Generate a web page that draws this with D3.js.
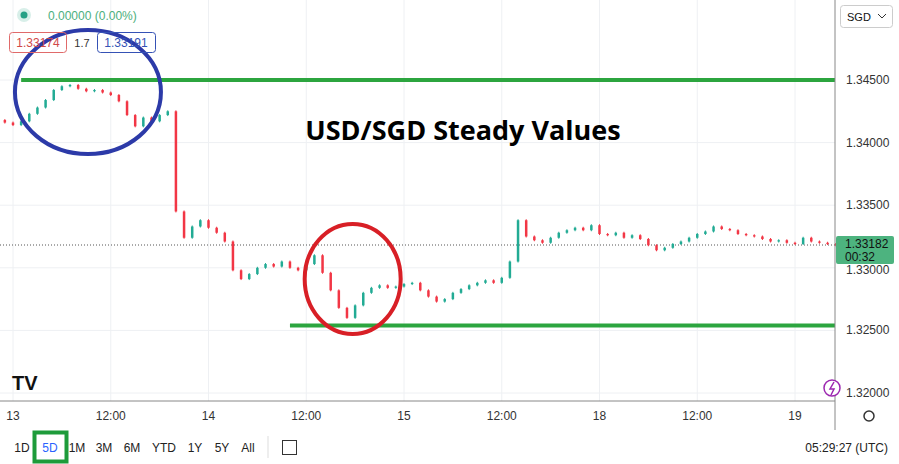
<!DOCTYPE html>
<html><head><meta charset="utf-8">
<script src="https://cdn.jsdelivr.net/npm/d3@7"></script>
<style>body{margin:0;background:#fff;font-family:"Liberation Sans",Arial,sans-serif}</style>
</head><body><div id="chart"></div>
<script>
// hours since 13th 00:00 (weekend removed), hourly closes
const hours = d3.range(-2, 102);
const closes = [1.3418,1.3416,1.3414,1.3417,1.3423,1.3428,1.3434,1.3442,1.3445,1.3446,1.3443,1.3441,1.3442,1.3440,1.3438,1.3433,1.3422,1.3413,1.3420,1.3417,1.3422,1.3425,
  1.3345,1.3324,1.3333,1.3338,1.3332,1.3328,1.3321,1.3298,1.3291,1.3295,1.3300,1.3303,1.3301,1.3305,1.3300,1.3298,1.3303,1.3310,1.3296,1.3282,1.3268,1.3260,1.3270,1.3280,
  1.3284,1.3286,1.3284,1.3285,1.3287,1.3288,1.3282,1.3277,1.3273,1.3275,1.3280,1.3283,1.3286,1.3288,1.3290,1.3288,1.3292,1.3305,1.3338,1.3325,1.3322,1.3320,1.3324,1.3328,
  1.3330,1.3332,1.3330,1.3334,1.3327,1.3326,1.3328,1.3324,1.3326,1.3323,1.3318,1.3314,1.3316,1.3319,1.3321,1.3324,1.3327,1.3329,1.3333,1.3331,1.3330,1.3327,1.3326,1.3325,
  1.3323,1.3321,1.3322,1.3320,1.3319,1.3324,1.3321,1.3320,1.3319,1.3318];
const timeTicks = [0, 12, 24, 36, 48, 60, 72, 84, 96];
const timeLabels = ['13', '12:00', '14', '12:00', '15', '12:00', '18', '12:00', '19'];
const priceTicks = [1.345, 1.340, 1.335, 1.330, 1.325, 1.320];
const resistance = 1.345, support = 1.3254, lastPrice = 1.33182;

const W = 899, H = 464, plotR = 835, plotB = 401;
const svg = d3.select('#chart').append('svg').attr('width', W).attr('height', H);

const x = d3.scaleLinear().domain([0, 96]).range([13, 795]);
const y = d3.scaleLinear().domain([1.345, 1.320]).range([80, 393]);

// grid
const grid = svg.append('g').attr('stroke', '#eef0f3');
grid.selectAll('.v').data(timeTicks).join('line')
  .attr('x1', d => x(d)).attr('x2', d => x(d)).attr('y1', 0).attr('y2', plotB);
grid.selectAll('.h').data(priceTicks).join('line')
  .attr('x1', 0).attr('x2', plotR).attr('y1', d => y(d)).attr('y2', d => y(d));

// last price dotted
svg.append('line').attr('x1', 0).attr('x2', plotR).attr('y1', y(lastPrice)).attr('y2', y(lastPrice))
  .attr('stroke', '#555').attr('stroke-dasharray', '1,2');

// candles
const candles = hours.map((t, i) => {
  const o = i ? closes[i - 1] : closes[0] + 0.0002;
  const c = closes[i];
  return { t, o, c, hi: Math.max(o, c) + 0.00008, lo: Math.min(o, c) - 0.00008 };
});
const cg = svg.append('g');
cg.selectAll('line').data(candles).join('line')
  .attr('x1', d => x(d.t)).attr('x2', d => x(d.t)).attr('y1', d => y(d.hi)).attr('y2', d => y(d.lo))
  .attr('stroke', d => d.c >= d.o ? '#22ab94' : '#f23645');
cg.selectAll('rect').data(candles).join('rect')
  .attr('x', d => x(d.t) - 1.25).attr('width', 2.5)
  .attr('y', d => y(Math.max(d.o, d.c))).attr('height', d => Math.max(1, Math.abs(y(d.o) - y(d.c))))
  .attr('fill', d => d.c >= d.o ? '#22ab94' : '#f23645');

// support / resistance lines
svg.append('line').attr('x1', x(1)).attr('x2', plotR).attr('y1', y(resistance)).attr('y2', y(resistance))
  .attr('stroke', '#2ca53f').attr('stroke-width', 4);
svg.append('line').attr('x1', x(34)).attr('x2', plotR).attr('y1', y(support)).attr('y2', y(support))
  .attr('stroke', '#2ca53f').attr('stroke-width', 4);

// ellipses
svg.append('ellipse').attr('cx', x(9.2)).attr('cy', y(1.34404)).attr('rx', 73).attr('ry', 62)
  .attr('fill', 'none').attr('stroke', '#2c3aa8').attr('stroke-width', 4);
svg.append('ellipse').attr('cx', x(41.7)).attr('cy', y(1.32911)).attr('rx', 48).attr('ry', 55)
  .attr('fill', 'none').attr('stroke', '#d81f26').attr('stroke-width', 4);

svg.append('text').attr('x', 463).attr('y', 140).attr('text-anchor', 'middle')
  .attr('font-family', 'Open Sans').attr('font-weight', 'bold').attr('font-size', 27).text('USD/SGD Steady Values');

// price axis
svg.append('line').attr('x1', plotR).attr('x2', plotR).attr('y1', 0).attr('y2', 430).attr('stroke', '#888');
svg.append('line').attr('x1', 0).attr('x2', plotR).attr('y1', plotB).attr('y2', plotB).attr('stroke', '#888');
svg.selectAll('.pt').data(priceTicks).join('text')
  .attr('x', 846).attr('y', d => y(d) + (d === 1.330 ? 6 : 4)).attr('font-size', 12).attr('fill', '#333')
  .text(d => d3.format('.5f')(d));
svg.append('rect').attr('x', 836).attr('y', y(lastPrice) - 9).attr('width', 58).attr('height', 28).attr('rx', 2).attr('fill', '#4db37f');
svg.append('text').attr('x', 845).attr('y', y(lastPrice) + 3).attr('font-size', 12).attr('fill', '#111').text(d3.format('.5f')(lastPrice));
svg.append('text').attr('x', 845).attr('y', y(lastPrice) + 16).attr('font-size', 12).attr('fill', '#111').text('00:32');

// time axis
svg.selectAll('.tt').data(timeTicks).join('text')
  .attr('x', (d, i) => x(d)).attr('y', 420).attr('text-anchor', 'middle').attr('font-size', 12).attr('fill', '#333')
  .text((d, i) => timeLabels[i]);
svg.append('circle').attr('cx', 869).attr('cy', 416).attr('r', 5).attr('fill', 'none').attr('stroke', '#333').attr('stroke-width', 1.5);

// header
svg.append('circle').attr('cx', 24).attr('cy', 15).attr('r', 7).attr('fill', '#d8efe9');
svg.append('circle').attr('cx', 24).attr('cy', 15).attr('r', 3.5).attr('fill', '#26a085');
svg.append('text').attr('x', 48).attr('y', 20).attr('font-size', 12).attr('fill', '#4caf7d').text('0.00000 (0.00%)');
svg.append('rect').attr('x', 9.5).attr('y', 32.5).attr('width', 57).attr('height', 20).attr('rx', 3).attr('fill', 'none').attr('stroke', '#e06a6a');
svg.append('text').attr('x', 38).attr('y', 47).attr('text-anchor', 'middle').attr('font-size', 12).attr('fill', '#d14848').text('1.33174');
svg.append('text').attr('x', 82).attr('y', 47).attr('text-anchor', 'middle').attr('font-size', 11).attr('fill', '#333').text('1.7');
svg.append('rect').attr('x', 97.5).attr('y', 32.5).attr('width', 58).attr('height', 20).attr('rx', 3).attr('fill', 'none').attr('stroke', '#3552b5');
svg.append('text').attr('x', 126).attr('y', 47).attr('text-anchor', 'middle').attr('font-size', 12).attr('fill', '#3552b5').text('1.33191');
svg.append('rect').attr('x', 840.5).attr('y', 5.5).attr('width', 52).attr('height', 22).attr('rx', 3).attr('fill', '#fff').attr('stroke', '#ccc');
svg.append('text').attr('x', 847).attr('y', 21).attr('font-size', 11).attr('fill', '#111').text('SGD');
svg.append('path').attr('d', 'M878,14 l4,4 l4,-4').attr('fill', 'none').attr('stroke', '#333');

// TV logo, lightning
svg.append('text').attr('x', 12).attr('y', 390).attr('font-size', 20).attr('font-weight', 'bold').attr('fill', '#111').text('TV');
svg.append('circle').attr('cx', 832).attr('cy', 388).attr('r', 8).attr('fill', '#fff').attr('stroke', '#9c27b0').attr('stroke-width', 1.5);
svg.append('path').attr('d', 'M834,382 l-4,7 h4 l-3,6').attr('fill', 'none').attr('stroke', '#9c27b0').attr('stroke-width', 1.5);

// bottom bar
const ranges = ['1D', '5D', '1M', '3M', '6M', 'YTD', '1Y', '5Y', 'All'];
const rx = [22, 50, 77, 104, 132, 164, 195, 222, 248];
svg.append('rect').attr('x', 34.5).attr('y', 432.5).attr('width', 32).attr('height', 29).attr('fill', 'none').attr('stroke', '#1d9b3a').attr('stroke-width', 4);
svg.selectAll('.rg').data(ranges).join('text')
  .attr('x', (d, i) => rx[i]).attr('y', 452).attr('text-anchor', 'middle').attr('font-size', 12)
  .attr('fill', d => d === '5D' ? '#2962ff' : '#222').text(d => d);
svg.append('line').attr('x1', 268).attr('x2', 268).attr('y1', 436).attr('y2', 458).attr('stroke', '#ddd');
svg.append('rect').attr('x', 282.5).attr('y', 440.5).attr('width', 14).attr('height', 14).attr('fill', 'none').attr('stroke', '#333');
svg.append('text').attr('x', 888).attr('y', 452).attr('text-anchor', 'end').attr('font-size', 12).attr('fill', '#222').text('05:29:27 (UTC)');
</script></body></html>
